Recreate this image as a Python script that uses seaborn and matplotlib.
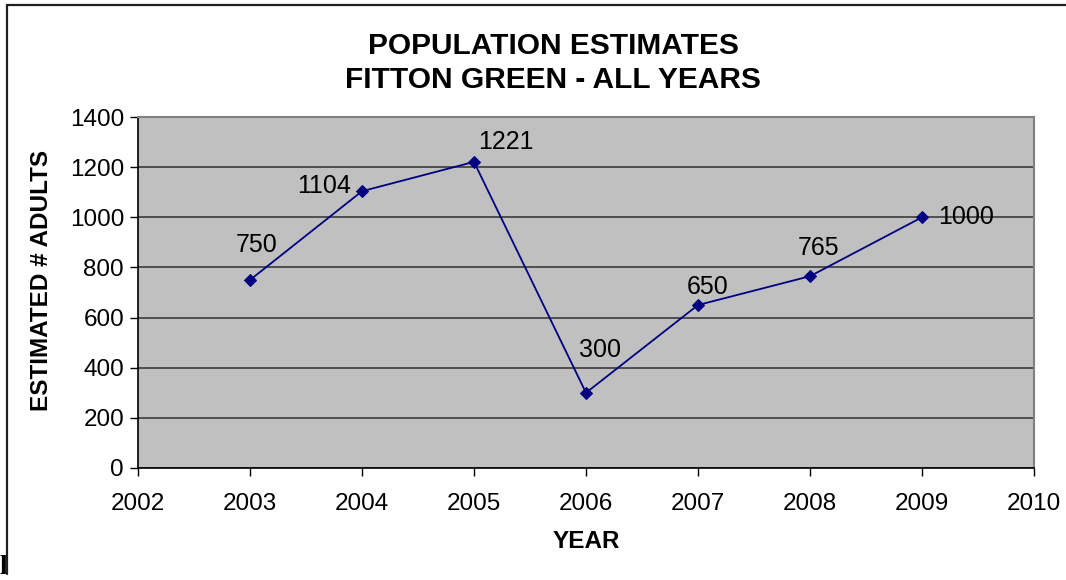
import pandas as pd
import matplotlib
matplotlib.use("Agg")
import matplotlib.pyplot as plt
import seaborn as sns
from matplotlib.lines import Line2D

# data
years = [2003, 2004, 2005, 2006, 2007, 2008, 2009]
adults = [750, 1104, 1221, 300, 650, 765, 1000]
x_ticks = [2002, 2003, 2004, 2005, 2006, 2007, 2008, 2009, 2010]
y_ticks = [0, 200, 400, 600, 800, 1000, 1200, 1400]

# label offsets in points (dx, dy) for each value label
label_offsets = [(5, 25), (-27, 4), (23, 14), (10, 31), (7, 13), (6, 20), (32, 0)]

sns.set_style("white")
plt.rcParams['font.family'] = ['Liberation Sans', 'DejaVu Sans']
plt.rcParams['text.color'] = 'black'
plt.rcParams['axes.labelcolor'] = 'black'
plt.rcParams['xtick.color'] = 'black'
plt.rcParams['ytick.color'] = 'black'

df = pd.DataFrame({"year": years, "adults": adults})

fig = plt.figure(figsize=(10.66, 5.8), dpi=100)
ax = fig.add_axes([138 / 1066, 1 - 468 / 580, (1034 - 138) / 1066, (468 - 117) / 580])
ax.set_facecolor("#c0c0c0")

sns.lineplot(data=df, x="year", y="adults", ax=ax, color="#000080", linewidth=1.3,
             marker="D", markersize=6.5, markeredgecolor="#000080", zorder=3)

for x, y, (dx, dy) in zip(years, adults, label_offsets):
    ax.annotate(str(y), (x, y), xytext=(dx, dy), textcoords="offset points",
                ha="center", va="center", fontsize=18, color="black")

ax.set_xlim(2002, 2010)
ax.set_ylim(0, 1400)
ax.set_xticks(x_ticks)
ax.set_yticks(y_ticks)
ax.set_xticklabels([str(t) for t in x_ticks], fontsize=17.5)
ax.set_yticklabels([str(t) for t in y_ticks], fontsize=17.5)
ax.yaxis.grid(True, color="#303030", linewidth=1.1)
ax.set_axisbelow(True)
ax.tick_params(axis="both", direction="out", length=6, width=1, color="black",
               left=True, bottom=True, pad=4)
ax.tick_params(axis="x", pad=12)

for side in ["left", "bottom"]:
    ax.spines[side].set_color("black")
    ax.spines[side].set_linewidth(1.2)
for side in ["top", "right"]:
    ax.spines[side].set_visible(True)
    ax.spines[side].set_color("#808080")
    ax.spines[side].set_linewidth(1.5)

ax.set_xlabel("YEAR", fontsize=17.5, fontweight="bold", labelpad=11)
ax.set_ylabel("ESTIMATED # ADULTS", fontsize=17.5, fontweight="bold")
ax.yaxis.set_label_coords((53 - 138) / 896, (468 - 280) / 351)

fig.text(553 / 1066, 1 - 63 / 580, "POPULATION ESTIMATES\nFITTON GREEN - ALL YEARS",
         ha="center", va="center", fontsize=21.5, fontweight="bold", linespacing=1.3)

# outer chart frame (cropped on the right and bottom)
fx = 7 / 1066
fy = 1 - 5 / 580
fig.add_artist(Line2D([fx, fx], [0.01, fy], transform=fig.transFigure, color="#202020", linewidth=1.6))
fig.add_artist(Line2D([fx, 1], [fy, fy], transform=fig.transFigure, color="#202020", linewidth=1.6))
fig.text(0.0, 0.0, "l", fontsize=20, fontweight="bold", family="Liberation Serif",
         ha="left", va="bottom")

fig.savefig("out.png", dpi=100)
